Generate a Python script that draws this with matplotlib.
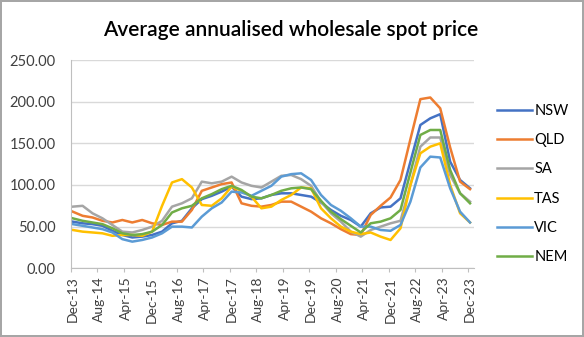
import numpy as np
import matplotlib
matplotlib.use("Agg")
import matplotlib.pyplot as plt
from matplotlib.ticker import FixedLocator, FuncFormatter, NullFormatter


# quarterly readings, month index 0 = Dec-13 ... 120 = Dec-23
months = list(range(0, 121, 3))

nsw = [56, 54, 53, 51, 45, 40, 37, 38, 40, 44, 54, 57, 72, 83, 87, 92, 98, 86, 83, 84,
       88, 90, 90, 88, 86, 79, 70, 63, 58, 50, 66, 73, 74, 84, 128, 172, 180, 185, 128, 106, 96]
qld = [68, 63, 61, 57, 55, 58, 55, 58, 54, 52, 56, 56, 70, 93, 97, 101, 103, 78, 75, 74,
       76, 80, 80, 74, 68, 60, 54, 47, 41, 40, 64, 75, 85, 106, 155, 203, 205, 192, 145, 104, 95]
sa = [74, 75, 66, 60, 52, 44, 43, 46, 50, 57, 74, 78, 84, 104, 102, 104, 110, 103, 99, 97,
      104, 111, 112, 107, 99, 80, 66, 56, 44, 38, 46, 50, 54, 57, 100, 146, 157, 157, 112, 90, 80]
tas = [46, 44, 43, 42, 39, 40, 40, 39, 44, 75, 103, 107, 97, 76, 75, 84, 98, 93, 86, 72,
       74, 82, 88, 97, 96, 72, 60, 50, 44, 41, 43, 38, 34, 48, 100, 138, 146, 150, 100, 66, 55]
vic = [53, 51, 49, 47, 43, 35, 32, 34, 37, 42, 50, 50, 49, 62, 72, 79, 92, 91, 87, 93,
       99, 110, 113, 114, 106, 88, 76, 69, 60, 50, 50, 46, 45, 52, 80, 121, 134, 133, 96, 68, 55]
nem = [60, 57, 55, 53, 48, 42, 40, 41, 44, 52, 67, 72, 75, 84, 89, 95, 99, 94, 86, 84,
       88, 93, 96, 97, 95, 81, 68, 59, 51, 43, 54, 56, 60, 70, 115, 160, 166, 166, 118, 90, 78]

names = ['NSW', 'QLD', 'SA', 'TAS', 'VIC', 'NEM']
colors = ['#4472C4', '#ED7D31', '#A5A5A5', '#FFC000', '#5B9BD5', '#70AD47']

tick_labels = ['Dec-13', 'Aug-14', 'Apr-15', 'Dec-15', 'Aug-16', 'Apr-17', 'Dec-17', 'Aug-18',
               'Apr-19', 'Dec-19', 'Aug-20', 'Apr-21', 'Dec-21', 'Aug-22', 'Apr-23', 'Dec-23']


def main():
    plt.rcParams['font.family'] = ['Lato', 'DejaVu Sans']

    fig = plt.figure(figsize=(5.84, 3.37), dpi=100)
    fig.patch.set_edgecolor('#A6A6A6')
    fig.patch.set_linewidth(1.5)

    ax = fig.add_axes([71 / 584, 68.7 / 337, 403 / 584, 208.3 / 337])

    for series, name, c in zip([nsw, qld, sa, tas, vic, nem], names, colors):
        ax.plot(months, series, color=c, lw=1.8, label=name, solid_joinstyle='round')

    ax.set_ylim(0, 250)
    ax.set_xlim(-0.5, 121.2)
    ax.set_yticks(np.arange(0, 251, 50))
    ax.yaxis.set_major_formatter(FuncFormatter(lambda v, p: f'{v:.2f}'))
    ax.grid(axis='y', color='#D9D9D9', lw=1)
    ax.set_axisbelow(True)

    # category ticks between months, labels centred on the month
    ax.xaxis.set_major_locator(FixedLocator([m - 0.5 for m in range(0, 121, 8)]))
    ax.xaxis.set_major_formatter(NullFormatter())
    ax.xaxis.set_minor_locator(FixedLocator(list(range(0, 121, 8))))
    ax.set_xticklabels(tick_labels, minor=True, rotation=90)
    ax.tick_params(axis='x', which='major', length=3, color='#BFBFBF')
    ax.tick_params(axis='x', which='minor', length=0, pad=6, labelsize=10, labelcolor='#404040')
    ax.tick_params(axis='y', length=0, pad=11, labelsize=10.5, labelcolor='#404040')

    for s in ['top', 'right']:
        ax.spines[s].set_visible(False)
    for s in ['left', 'bottom']:
        ax.spines[s].set_color('#BFBFBF')

    fig.text(0.498, 0.91, 'Average annualised wholesale spot price', ha='center', va='center',
             fontsize=15, fontweight='semibold', color='black')

    ax.legend(loc='upper left', bbox_to_anchor=(497 / 584, 0.692), bbox_transform=fig.transFigure,
              frameon=False, fontsize=10.5, handlelength=2.4, handletextpad=0.15,
              labelspacing=1.05, borderaxespad=0, borderpad=0)

    fig.savefig('out.png', dpi=100)


if __name__ == "__main__":
    main()
